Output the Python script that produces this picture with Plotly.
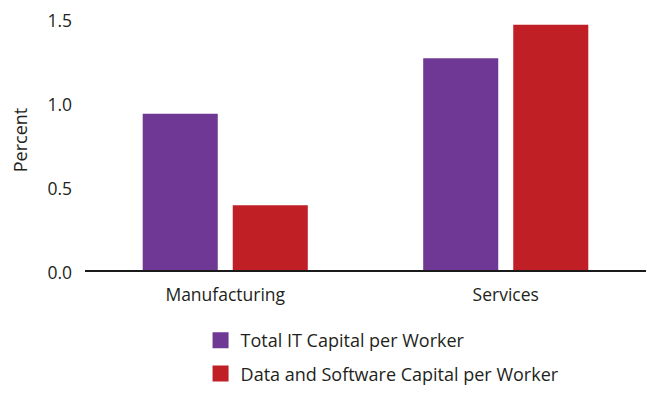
import plotly.graph_objects as go

sectors = ['Manufacturing', 'Services']
total_it = [0.93, 1.26]
data_software = [0.385, 1.46]
series_names = ['Total IT Capital per Worker', 'Data and Software Capital per Worker']
colors = ['#6e3894', '#c01f26']
y_ticks = [0.0, 0.5, 1.0, 1.5]
y_tick_text = ['0.0', '0.5', '1.0', '1.5']

fig = go.Figure()
for name, vals, col in zip(series_names, [total_it, data_software], colors):
    fig.add_trace(go.Bar(x=sectors, y=vals, name=name, marker_color=col,
                         marker_line_width=0, showlegend=False))
    # legend entry with a bigger square swatch
    fig.add_trace(go.Scatter(x=[None], y=[None], mode='markers', name=name,
                             marker=dict(symbol='square', size=16, color=col),
                             legendgroup=name))

fig.update_layout(
    width=647, height=401,
    margin=dict(l=85, r=1, t=10, b=131),
    plot_bgcolor='white', paper_bgcolor='white',
    font=dict(family='Open Sans', size=17.5, color='#231f20'),
    barmode='group', bargap=0.358, bargroupgap=0.1667,
    legend=dict(orientation='v', x=0.206, xanchor='left', y=-0.2, yanchor='top',
                font=dict(size=18), tracegroupgap=7),
    showlegend=True,
)
fig.update_xaxes(showline=True, linecolor='#1a1a1a', linewidth=1.5,
                 showgrid=False, ticks='', ticklabelstandoff=8, automargin=False)
fig.update_yaxes(range=[0, 1.5476], tickvals=y_ticks, ticktext=y_tick_text,
                 showgrid=False, zeroline=False, showline=False,
                 ticklabelstandoff=12, ticklabelshift=3, automargin=False,
                 title=dict(text='Percent', standoff=15, font=dict(size=18)))

# drop the default page margin so the figure sits at the window's corner
fig.write_html('out.html', config={'displayModeBar': False},
               post_script="document.body.style.margin='0';")
